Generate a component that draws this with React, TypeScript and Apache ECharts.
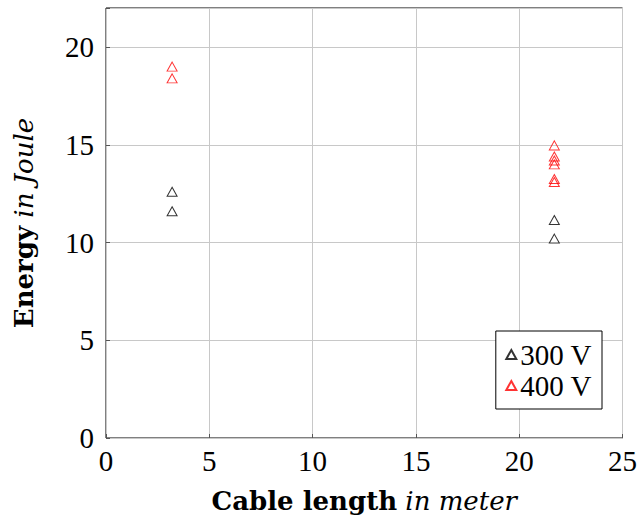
import React, { useEffect, useRef } from "react";
import * as echarts from "echarts";

const seriesNames = ["300 V", "400 V"];
const seriesColors = ["#000000", "#ff0000"];
const data300: [number, number][] = [
  [3.2, 12.6],
  [3.2, 11.6],
  [21.7, 11.15],
  [21.7, 10.2],
];
const data400: [number, number][] = [
  [3.2, 19.0],
  [3.2, 18.4],
  [21.7, 14.97],
  [21.7, 14.4],
  [21.7, 14.2],
  [21.7, 14.0],
  [21.7, 13.25],
  [21.7, 13.1],
];

const FONT = "Liberation Serif";
const TFONT = "DejaVu Serif";

export default function App() {
  const ref = useRef<HTMLDivElement>(null);
  useEffect(() => {
    const chart = echarts.init(ref.current!, null, { renderer: "svg" });
    const mkSeries = (name: string, data: [number, number][], color: string) => ({
      name,
      type: "scatter",
      data,
      symbol: "triangle",
      symbolSize: [10, 9],
      itemStyle: { color: "none", borderColor: color, borderWidth: 1 },
    });
    const rich = {
      b: { fontFamily: TFONT, fontSize: 26, fontWeight: "bold", color: "#000" },
      i: { fontFamily: TFONT, fontSize: 26, fontStyle: "italic", color: "#000" },
    };
    chart.setOption({
      animation: false,
      grid: {
        left: 106,
        top: 8,
        right: 16,
        bottom: 84,
        show: true,
        borderColor: "#000",
        borderWidth: 1,
        backgroundColor: "transparent",
      },
      xAxis: {
        type: "value",
        min: 0,
        max: 25,
        interval: 5,
        axisLine: { show: false },
        axisTick: { show: true, inside: true, length: 4, lineStyle: { color: "#555" } },
        splitLine: { show: true, lineStyle: { color: "#c8c8c8", width: 1 } },
        axisLabel: { color: "#000", fontFamily: FONT, fontSize: 29, margin: 8 },
        name: "{b|Cable length}{i| in meter}",
        nameLocation: "middle",
        nameGap: 50,
        nameTextStyle: { color: "#000", rich },
      },
      yAxis: {
        type: "value",
        min: 0,
        max: 22,
        interval: 5,
        axisLine: { show: false },
        axisTick: { show: true, inside: true, length: 4, lineStyle: { color: "#555" } },
        splitLine: { show: true, lineStyle: { color: "#c8c8c8", width: 1 } },
        axisLabel: {
          color: "#000",
          fontFamily: FONT,
          fontSize: 29,
          margin: 12,
          formatter: (v: number) => (v % 5 === 0 ? String(v) : ""),
        },
        name: "{b|Energy}{i| in Joule}",
        nameLocation: "middle",
        nameRotate: 90,
        nameGap: 69,
        nameTextStyle: { color: "#000", rich },
      },
      legend: {
        orient: "vertical",
        right: 38,
        bottom: 113,
        data: seriesNames,
        icon: "triangle",
        itemWidth: 10,
        itemHeight: 9,
        itemGap: 2,
        padding: [9, 10, 9, 8],
        borderColor: "#000",
        borderWidth: 1,
        borderRadius: 0,
        backgroundColor: "#fff",
        textStyle: { fontFamily: FONT, fontSize: 29, color: "#000", padding: [0, 0, 0, -1] },
      },
      series: [
        mkSeries(seriesNames[0], data300, seriesColors[0]),
        mkSeries(seriesNames[1], data400, seriesColors[1]),
      ],
    });
    return () => chart.dispose();
  }, []);
  return (
    <div
      ref={ref}
      style={{ position: "fixed", left: 0, top: 0, width: 640, height: 522, background: "#fff" }}
    />
  );
}
